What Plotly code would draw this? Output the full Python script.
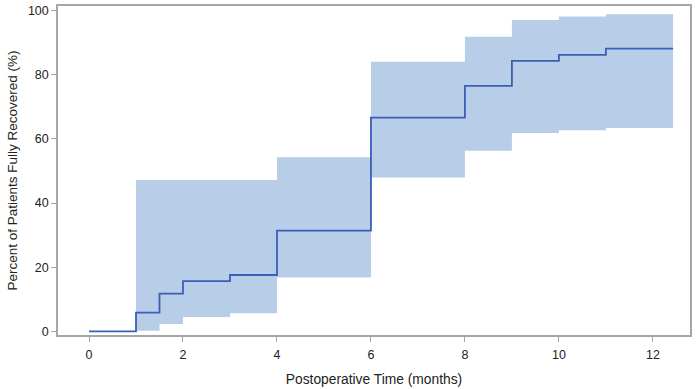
import plotly.graph_objects as go

# Kaplan-Meier style cumulative recovery (%)
times = [0, 1, 1.5, 2, 3, 4, 6, 8, 9, 10, 11, 12.43]
recovered = [0, 5.9, 11.8, 15.7, 17.6, 31.4, 66.6, 76.5, 84.3, 86.2, 88.1, 88.1]

band_times = [1, 1.5, 2, 3, 4, 6, 8, 9, 10, 11, 12.43]
upper_ci = [47.2, 47.2, 47.2, 47.2, 54.3, 84.0, 91.8, 97.0, 98.1, 98.8, 98.8]
lower_ci = [0.2, 2.3, 4.5, 5.7, 16.8, 48.0, 56.3, 61.8, 62.7, 63.4, 63.4]

x_ticks = [0, 2, 4, 6, 8, 10, 12]
y_ticks = [0, 20, 40, 60, 80, 100]

band_color = "#b8cde8"
line_color = "#3a5fb5"
frame_color = "#a6a6a6"
font_family = "Liberation Sans, Arial, sans-serif"

fig = go.Figure()
fig.add_trace(go.Scatter(x=band_times, y=lower_ci, mode="lines", line=dict(width=0, shape="hv"),
                         hoverinfo="skip", showlegend=False))
fig.add_trace(go.Scatter(x=band_times, y=upper_ci, mode="lines", line=dict(width=0, shape="hv"),
                         fill="tonexty", fillcolor=band_color, hoverinfo="skip", showlegend=False))
fig.add_trace(go.Scatter(x=times, y=recovered, mode="lines", line=dict(color=line_color, width=1.8, shape="hv"),
                         showlegend=False))

fig.update_layout(
    width=696, height=389,
    margin=dict(l=58, r=6, t=6, b=54),
    paper_bgcolor="white", plot_bgcolor="white",
    font=dict(family=font_family, size=12, color="#222222"),
)
fig.update_xaxes(
    range=[-0.66, 12.79], tickvals=x_ticks, ticks="outside", ticklen=5, tickcolor=frame_color,
    showline=True, linecolor=frame_color, linewidth=1.5, mirror=True, showgrid=False, zeroline=False,
    title=dict(text="Postoperative Time (months)", standoff=14, font=dict(size=13.8)),
    tickfont=dict(size=12.5), ticklabelstandoff=2, automargin=False,
)
fig.update_yaxes(
    range=[-1.1, 101.4], tickvals=y_ticks, ticks="outside", ticklen=5, tickcolor=frame_color,
    showline=True, linecolor=frame_color, linewidth=1.5, mirror=True, showgrid=False, zeroline=False,
    title=dict(text="Percent of Patients Fully Recovered (%)", standoff=7, font=dict(size=13.5)),
    tickfont=dict(size=12.5), automargin=False,
)

fig.write_html("out.html")
